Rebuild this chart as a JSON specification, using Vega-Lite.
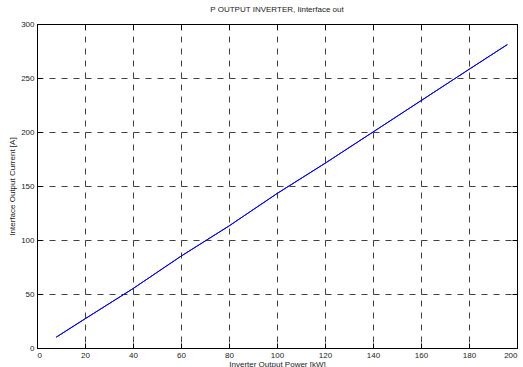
{
  "$schema": "https://vega.github.io/schema/vega-lite/v6.json",
  "width": 480,
  "height": 324,
  "autosize": {"type": "none"},
  "padding": {"left": 37, "top": 24, "right": 6, "bottom": 19},
  "background": "white",
  "title": {"text": "P OUTPUT INVERTER, Iinterface out", "font": "Liberation Sans", "fontSize": 8, "fontWeight": "normal", "color": "#222", "offset": 6},
  "config": {
    "view": {"stroke": "black", "strokeWidth": 1},
    "axis": {
      "labelFont": "Liberation Sans", "labelFontSize": 8, "labelColor": "#222",
      "titleFont": "Liberation Sans", "titleFontSize": 8, "titleFontWeight": "normal", "titleColor": "#222",
      "domainColor": "black", "tickColor": "black", "tickSize": -5,
      "gridColor": "black", "gridDash": [6, 6], "gridOpacity": 0.75, "gridWidth": 1
    }
  },
  "data": {"values": [
    {"p": 8, "i": 10},
    {"p": 20, "i": 27},
    {"p": 40, "i": 55},
    {"p": 60, "i": 85},
    {"p": 80, "i": 113},
    {"p": 100, "i": 143},
    {"p": 120, "i": 171},
    {"p": 140, "i": 200},
    {"p": 160, "i": 229},
    {"p": 180, "i": 258},
    {"p": 196, "i": 281}
  ]},
  "layer": [
    {
      "mark": {"type": "line", "color": "#0000ff", "strokeWidth": 1},
      "encoding": {
        "x": {"field": "p", "type": "quantitative", "scale": {"domain": [0, 200], "nice": false},
          "axis": {"title": "Inverter Output Power [kW]", "grid": true, "values": [0,20,40,60,80,100,120,140,160,180,200], "labelPadding": 8, "titlePadding": 1}},
        "y": {"field": "i", "type": "quantitative", "scale": {"domain": [0, 300], "nice": false},
          "axis": {"title": "Interface Output Current [A]", "grid": true, "values": [0,50,100,150,200,250,300], "labelPadding": 8, "titlePadding": 4}}
      }
    },
    {
      "mark": {"type": "line", "color": "#0000ff", "strokeWidth": 1},
      "encoding": {
        "x": {"field": "p", "type": "quantitative", "scale": {"domain": [0, 200], "nice": false},
          "axis": {"orient": "top", "title": null, "labels": false, "grid": false, "values": [0,20,40,60,80,100,120,140,160,180,200]}},
        "y": {"field": "i", "type": "quantitative", "scale": {"domain": [0, 300], "nice": false},
          "axis": {"orient": "right", "title": null, "labels": false, "grid": false, "values": [0,50,100,150,200,250,300]}}
      }
    }
  ],
  "resolve": {"axis": {"x": "independent", "y": "independent"}}
}
